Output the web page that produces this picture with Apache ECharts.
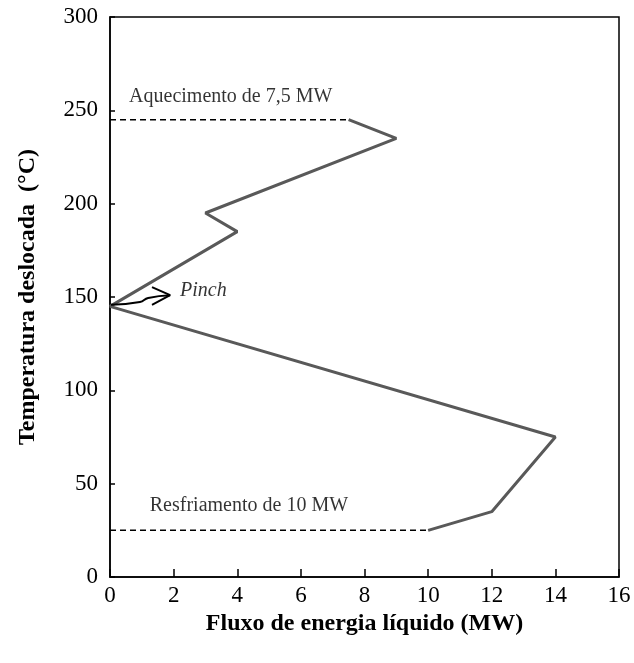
<!DOCTYPE html>
<html style="height: 100%">
<head>
<meta charset="utf-8">
<script src="https://cdn.jsdelivr.net/npm/echarts@6/dist/echarts.min.js"></script>
</head>
<body style="height: 100%; margin: 0; background: #fff;">
<div id="container" style="width: 634px; height: 663px;"></div>
<script type="text/javascript">
// curva composta (fluxo MW, temperatura deslocada °C)
var curveX = [7.5, 9, 3, 4, 0, 14, 12, 10];
var curveY = [245, 235, 195, 185, 145, 75, 35, 25];
// linhas de utilidade
var hotUtility = [[0, 245], [7.5, 245]];
var coldUtility = [[0, 25], [10, 25]];
// seta do pinch
var pinchArrow = [[0.03, 145.8], [0.94, 147.3], [1.2, 149.5], [1.89, 151]];
var pinchHead = [[1.32, 155.3], [1.89, 151], [1.32, 145.8]];
// textos
var notes = [
    [0.6, 257.5, 'Aquecimento de 7,5 MW', 'normal'],
    [1.25, 38, 'Resfriamento de 10 MW', 'normal'],
    [2.2, 153.2, 'Pinch', 'italic']
];

var curve = curveX.map(function (x, i) { return [x, curveY[i]]; });

var dom = document.getElementById('container');
var myChart = echarts.init(dom);
var font = 'Liberation Serif';
var option = {
    animation: false,
    grid: {
        left: 110, right: 15, top: 17, bottom: 86,
        show: true, borderColor: '#000', borderWidth: 1.5
    },
    xAxis: {
        type: 'value', min: 0, max: 16, interval: 2,
        name: 'Fluxo de energia líquido (MW)',
        nameLocation: 'middle', nameGap: 34,
        nameTextStyle: {fontFamily: font, fontSize: 24, fontWeight: 'bold', color: '#000'},
        axisLine: {lineStyle: {color: '#000', width: 1.5}},
        axisTick: {inside: true, length: 8, lineStyle: {color: '#000', width: 1.5}},
        axisLabel: {fontFamily: font, fontSize: 23, color: '#000', margin: 7},
        splitLine: {show: false}
    },
    yAxis: {
        type: 'value', min: 0, max: 300, interval: 50,
        name: 'Temperatura deslocada  (°C)',
        nameLocation: 'middle', nameGap: 70,
        nameTextStyle: {fontFamily: font, fontSize: 24, fontWeight: 'bold', color: '#000'},
        axisLine: {lineStyle: {color: '#000', width: 1.5}},
        axisTick: {inside: true, length: 5, lineStyle: {color: '#000', width: 1.5}},
        axisLabel: {fontFamily: font, fontSize: 23, color: '#000', margin: 12},
        splitLine: {show: false}
    },
    series: [
        {
            type: 'line', data: curve, symbol: 'none',
            lineStyle: {color: '#595959', width: 3}
        },
        {
            type: 'line', data: hotUtility, symbol: 'none',
            lineStyle: {color: '#000', width: 1.5, type: [6, 4]}
        },
        {
            type: 'line', data: coldUtility, symbol: 'none',
            lineStyle: {color: '#000', width: 1.5, type: [6, 4]}
        },
        {
            type: 'line', data: pinchArrow, symbol: 'none', smooth: true,
            lineStyle: {color: '#000', width: 2}
        },
        {
            type: 'line', data: pinchHead, symbol: 'none',
            lineStyle: {color: '#000', width: 2}
        },
        {
            type: 'scatter', symbolSize: 0,
            data: notes.map(function (n) {
                return {value: [n[0], n[1]], name: n[2], label: {fontStyle: n[3]}};
            }),
            label: {
                show: true, position: 'right', distance: 0,
                fontFamily: font, fontSize: 20, color: '#000',
                formatter: function (p) { return p.name; }
            }
        }
    ]
};
myChart.setOption(option);
</script>
</body>
</html>
